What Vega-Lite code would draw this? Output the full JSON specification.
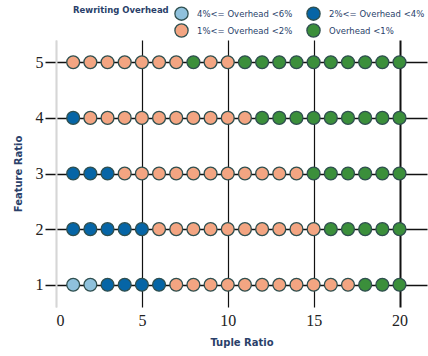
{
  "$schema": "https://vega.github.io/schema/vega-lite/v6.json",
  "autosize": {"type": "none"},
  "padding": {"left": 56, "top": 40, "right": 1, "bottom": 49},
  "width": 371,
  "height": 267,
  "config": {"view": {"stroke": null}},
  "data": {"values": [
    {"x":1,"y":1,"o":"4%<= Overhead <6%"},{"x":2,"y":1,"o":"4%<= Overhead <6%"},{"x":3,"y":1,"o":"2%<= Overhead <4%"},{"x":4,"y":1,"o":"2%<= Overhead <4%"},{"x":5,"y":1,"o":"2%<= Overhead <4%"},{"x":6,"y":1,"o":"2%<= Overhead <4%"},{"x":7,"y":1,"o":"1%<= Overhead <2%"},{"x":8,"y":1,"o":"1%<= Overhead <2%"},{"x":9,"y":1,"o":"1%<= Overhead <2%"},{"x":10,"y":1,"o":"1%<= Overhead <2%"},{"x":11,"y":1,"o":"1%<= Overhead <2%"},{"x":12,"y":1,"o":"1%<= Overhead <2%"},{"x":13,"y":1,"o":"1%<= Overhead <2%"},{"x":14,"y":1,"o":"1%<= Overhead <2%"},{"x":15,"y":1,"o":"1%<= Overhead <2%"},{"x":16,"y":1,"o":"1%<= Overhead <2%"},{"x":17,"y":1,"o":"1%<= Overhead <2%"},{"x":18,"y":1,"o":"Overhead <1%"},{"x":19,"y":1,"o":"Overhead <1%"},{"x":20,"y":1,"o":"Overhead <1%"},
    {"x":1,"y":2,"o":"2%<= Overhead <4%"},{"x":2,"y":2,"o":"2%<= Overhead <4%"},{"x":3,"y":2,"o":"2%<= Overhead <4%"},{"x":4,"y":2,"o":"2%<= Overhead <4%"},{"x":5,"y":2,"o":"2%<= Overhead <4%"},{"x":6,"y":2,"o":"1%<= Overhead <2%"},{"x":7,"y":2,"o":"1%<= Overhead <2%"},{"x":8,"y":2,"o":"1%<= Overhead <2%"},{"x":9,"y":2,"o":"1%<= Overhead <2%"},{"x":10,"y":2,"o":"1%<= Overhead <2%"},{"x":11,"y":2,"o":"1%<= Overhead <2%"},{"x":12,"y":2,"o":"1%<= Overhead <2%"},{"x":13,"y":2,"o":"1%<= Overhead <2%"},{"x":14,"y":2,"o":"1%<= Overhead <2%"},{"x":15,"y":2,"o":"1%<= Overhead <2%"},{"x":16,"y":2,"o":"Overhead <1%"},{"x":17,"y":2,"o":"Overhead <1%"},{"x":18,"y":2,"o":"Overhead <1%"},{"x":19,"y":2,"o":"Overhead <1%"},{"x":20,"y":2,"o":"Overhead <1%"},
    {"x":1,"y":3,"o":"2%<= Overhead <4%"},{"x":2,"y":3,"o":"2%<= Overhead <4%"},{"x":3,"y":3,"o":"2%<= Overhead <4%"},{"x":4,"y":3,"o":"1%<= Overhead <2%"},{"x":5,"y":3,"o":"1%<= Overhead <2%"},{"x":6,"y":3,"o":"1%<= Overhead <2%"},{"x":7,"y":3,"o":"1%<= Overhead <2%"},{"x":8,"y":3,"o":"1%<= Overhead <2%"},{"x":9,"y":3,"o":"1%<= Overhead <2%"},{"x":10,"y":3,"o":"1%<= Overhead <2%"},{"x":11,"y":3,"o":"1%<= Overhead <2%"},{"x":12,"y":3,"o":"1%<= Overhead <2%"},{"x":13,"y":3,"o":"1%<= Overhead <2%"},{"x":14,"y":3,"o":"1%<= Overhead <2%"},{"x":15,"y":3,"o":"Overhead <1%"},{"x":16,"y":3,"o":"Overhead <1%"},{"x":17,"y":3,"o":"Overhead <1%"},{"x":18,"y":3,"o":"Overhead <1%"},{"x":19,"y":3,"o":"Overhead <1%"},{"x":20,"y":3,"o":"Overhead <1%"},
    {"x":1,"y":4,"o":"2%<= Overhead <4%"},{"x":2,"y":4,"o":"1%<= Overhead <2%"},{"x":3,"y":4,"o":"1%<= Overhead <2%"},{"x":4,"y":4,"o":"1%<= Overhead <2%"},{"x":5,"y":4,"o":"1%<= Overhead <2%"},{"x":6,"y":4,"o":"1%<= Overhead <2%"},{"x":7,"y":4,"o":"1%<= Overhead <2%"},{"x":8,"y":4,"o":"1%<= Overhead <2%"},{"x":9,"y":4,"o":"1%<= Overhead <2%"},{"x":10,"y":4,"o":"1%<= Overhead <2%"},{"x":11,"y":4,"o":"1%<= Overhead <2%"},{"x":12,"y":4,"o":"Overhead <1%"},{"x":13,"y":4,"o":"Overhead <1%"},{"x":14,"y":4,"o":"Overhead <1%"},{"x":15,"y":4,"o":"Overhead <1%"},{"x":16,"y":4,"o":"Overhead <1%"},{"x":17,"y":4,"o":"Overhead <1%"},{"x":18,"y":4,"o":"Overhead <1%"},{"x":19,"y":4,"o":"Overhead <1%"},{"x":20,"y":4,"o":"Overhead <1%"},
    {"x":1,"y":5,"o":"1%<= Overhead <2%"},{"x":2,"y":5,"o":"1%<= Overhead <2%"},{"x":3,"y":5,"o":"1%<= Overhead <2%"},{"x":4,"y":5,"o":"1%<= Overhead <2%"},{"x":5,"y":5,"o":"1%<= Overhead <2%"},{"x":6,"y":5,"o":"1%<= Overhead <2%"},{"x":7,"y":5,"o":"1%<= Overhead <2%"},{"x":8,"y":5,"o":"Overhead <1%"},{"x":9,"y":5,"o":"1%<= Overhead <2%"},{"x":10,"y":5,"o":"1%<= Overhead <2%"},{"x":11,"y":5,"o":"Overhead <1%"},{"x":12,"y":5,"o":"Overhead <1%"},{"x":13,"y":5,"o":"Overhead <1%"},{"x":14,"y":5,"o":"Overhead <1%"},{"x":15,"y":5,"o":"Overhead <1%"},{"x":16,"y":5,"o":"Overhead <1%"},{"x":17,"y":5,"o":"Overhead <1%"},{"x":18,"y":5,"o":"Overhead <1%"},{"x":19,"y":5,"o":"Overhead <1%"},{"x":20,"y":5,"o":"Overhead <1%"}
  ]},
  "mark": {"type": "point", "shape": "circle", "filled": true, "size": 165, "opacity": 1, "stroke": "#2f4f4f", "strokeWidth": 1.3},
  "encoding": {
    "x": {
      "field": "x", "type": "quantitative",
      "scale": {"domain": [0, 21.6], "nice": false, "zero": false},
      "axis": {
        "title": "Tuple Ratio", "values": [0, 5, 10, 15, 20],
        "domain": false, "ticks": false,
        "grid": true,
        "gridColor": {"condition": {"test": "datum.value === 0", "value": "#d6d6d6"}, "value": "#111"},
        "gridWidth": {"condition": {"test": "datum.value === 20", "value": 2}, "value": 1.2},
        "gridOpacity": 1,
        "labelFont": "Liberation Serif", "labelFontSize": 16, "labelColor": "#222", "labelPadding": 5,
        "titleFont": "DejaVu Sans", "titleFontSize": 10, "titleFontWeight": "bold", "titleColor": "#2a3f6a", "titlePadding": 9
      }
    },
    "y": {
      "field": "y", "type": "quantitative",
      "scale": {"domain": [0.6, 5.4], "nice": false, "zero": false},
      "axis": {
        "title": "Feature Ratio", "values": [1, 2, 3, 4, 5],
        "domain": true, "domainColor": "#d6d6d6", "domainWidth": 2,
        "ticks": true, "tickSize": 11, "tickColor": "#111", "tickWidth": 1.5,
        "grid": true, "gridColor": "#111", "gridWidth": 1.5, "gridOpacity": 1,
        "labelFont": "Liberation Serif", "labelFontSize": 16, "labelColor": "#222", "labelPadding": 2,
        "titleFont": "DejaVu Sans", "titleFontSize": 10, "titleFontWeight": "bold", "titleColor": "#2a3f6a", "titlePadding": 12
      }
    },
    "color": {
      "field": "o", "type": "nominal",
      "scale": {
        "domain": ["4%<= Overhead <6%", "2%<= Overhead <4%", "1%<= Overhead <2%", "Overhead <1%"],
        "range": ["#8fc1dc", "#0665a6", "#f3a582", "#3b8f3b"]
      },
      "legend": {
        "title": "Rewriting Overhead", "orient": "none", "legendX": 17, "legendY": -34,
        "columns": 2, "direction": "horizontal", "titleOrient": "left", "titleAnchor": "start", "titlePadding": 5,
        "titleFont": "DejaVu Sans", "titleFontSize": 8.5, "titleFontWeight": "bold", "titleColor": "#2a3f6a",
        "labelFont": "DejaVu Sans", "labelFontSize": 8.5, "labelColor": "#2a3f6a", "labelOffset": 8,
        "symbolType": "circle", "symbolSize": 175, "symbolStrokeColor": "#2f4f4f", "symbolStrokeWidth": 1.3, "symbolOpacity": 1,
        "columnPadding": 11, "rowPadding": -3, "padding": 0
      }
    }
  }
}
